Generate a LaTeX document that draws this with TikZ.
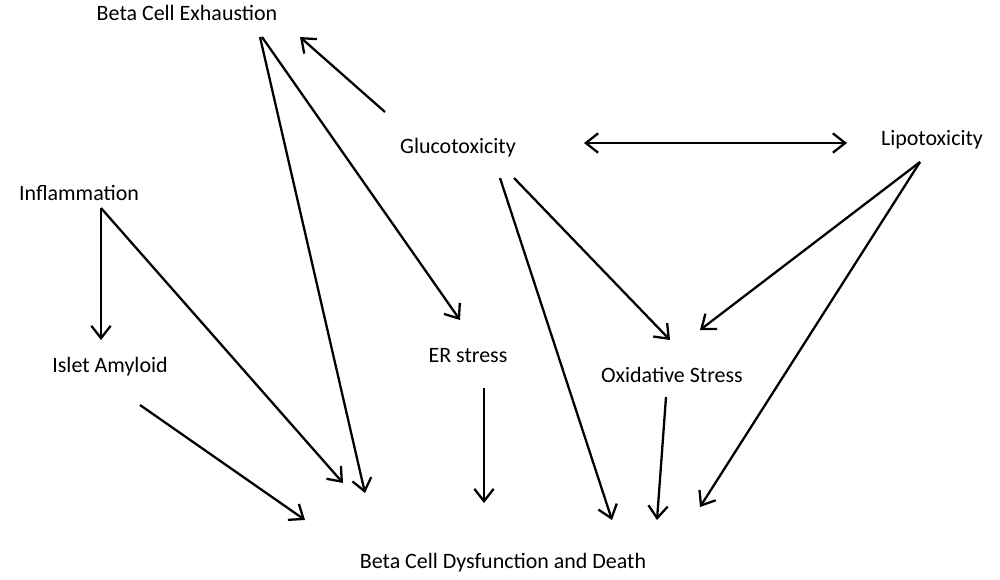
\documentclass[tikz,border=0pt]{standalone}
\usepackage{fontspec}
\setmainfont{Carlito}
\usetikzlibrary{arrows.meta}
\begin{document}
\begin{tikzpicture}[x=0.02cm,y=-0.02cm,
  lbl/.style={inner sep=0pt,font=\fontsize{12.5}{15}\selectfont},
  arr/.style={line width=1.3pt,-{Straight Barb[length=7pt,width=11pt,line width=1.3pt]}},
  darr/.style={line width=1.3pt,{Straight Barb[length=7pt,width=11pt,line width=1.3pt]}-{Straight Barb[length=7pt,width=11pt,line width=1.3pt]}}]
\useasboundingbox (0,0) rectangle (1000,579);
\node[lbl] (bce) at (187,13) {Beta Cell Exhaustion};
\node[lbl] (glu) at (458,148) {Glucotoxicity};
\node[lbl] (lip) at (932,140) {Lipotoxicity};
\node[lbl] (inf) at (79,193) {Inflammation};
\node[lbl] (isl) at (110,367) {Islet Amyloid};
\node[lbl] (er) at (468,356) {ER stress};
\node[lbl] (ox) at (672,375) {Oxidative Stress};
\node[lbl] (dd) at (503,563) {Beta Cell Dysfunction and Death};
\coordinate (g1) at (385,112); \coordinate (b1) at (300,37);
\coordinate (g2) at (584,143); \coordinate (l2) at (847,143);
\coordinate (b3) at (260,37); \coordinate (d3) at (365,493);
\coordinate (b4) at (262,37); \coordinate (e4) at (460,320);
\coordinate (i5) at (101,208); \coordinate (a5) at (101,340);
\coordinate (d6) at (343,483);
\coordinate (a7) at (140,405); \coordinate (d7) at (305,520);
\coordinate (e8) at (484,388); \coordinate (d8) at (484,503);
\coordinate (g9) at (500,178); \coordinate (d9) at (612,520);
\coordinate (g10) at (514,178); \coordinate (o10) at (670,340);
\coordinate (l11) at (920,162); \coordinate (o11) at (700,330);
\coordinate (d12) at (700,507);
\coordinate (o13) at (666,397); \coordinate (d13) at (657,520);
\draw[arr] (g1) -- (b1);
\draw[darr] (g2) -- (l2);
\draw[arr] (b3) -- (d3);
\draw[arr] (b4) -- (e4);
\draw[arr] (i5) -- (a5);
\draw[arr] (i5) -- (d6);
\draw[arr] (a7) -- (d7);
\draw[arr] (e8) -- (d8);
\draw[arr] (g9) -- (d9);
\draw[arr] (g10) -- (o10);
\draw[arr] (l11) -- (o11);
\draw[arr] (l11) -- (d12);
\draw[arr] (o13) -- (d13);
\end{tikzpicture}
\end{document}
